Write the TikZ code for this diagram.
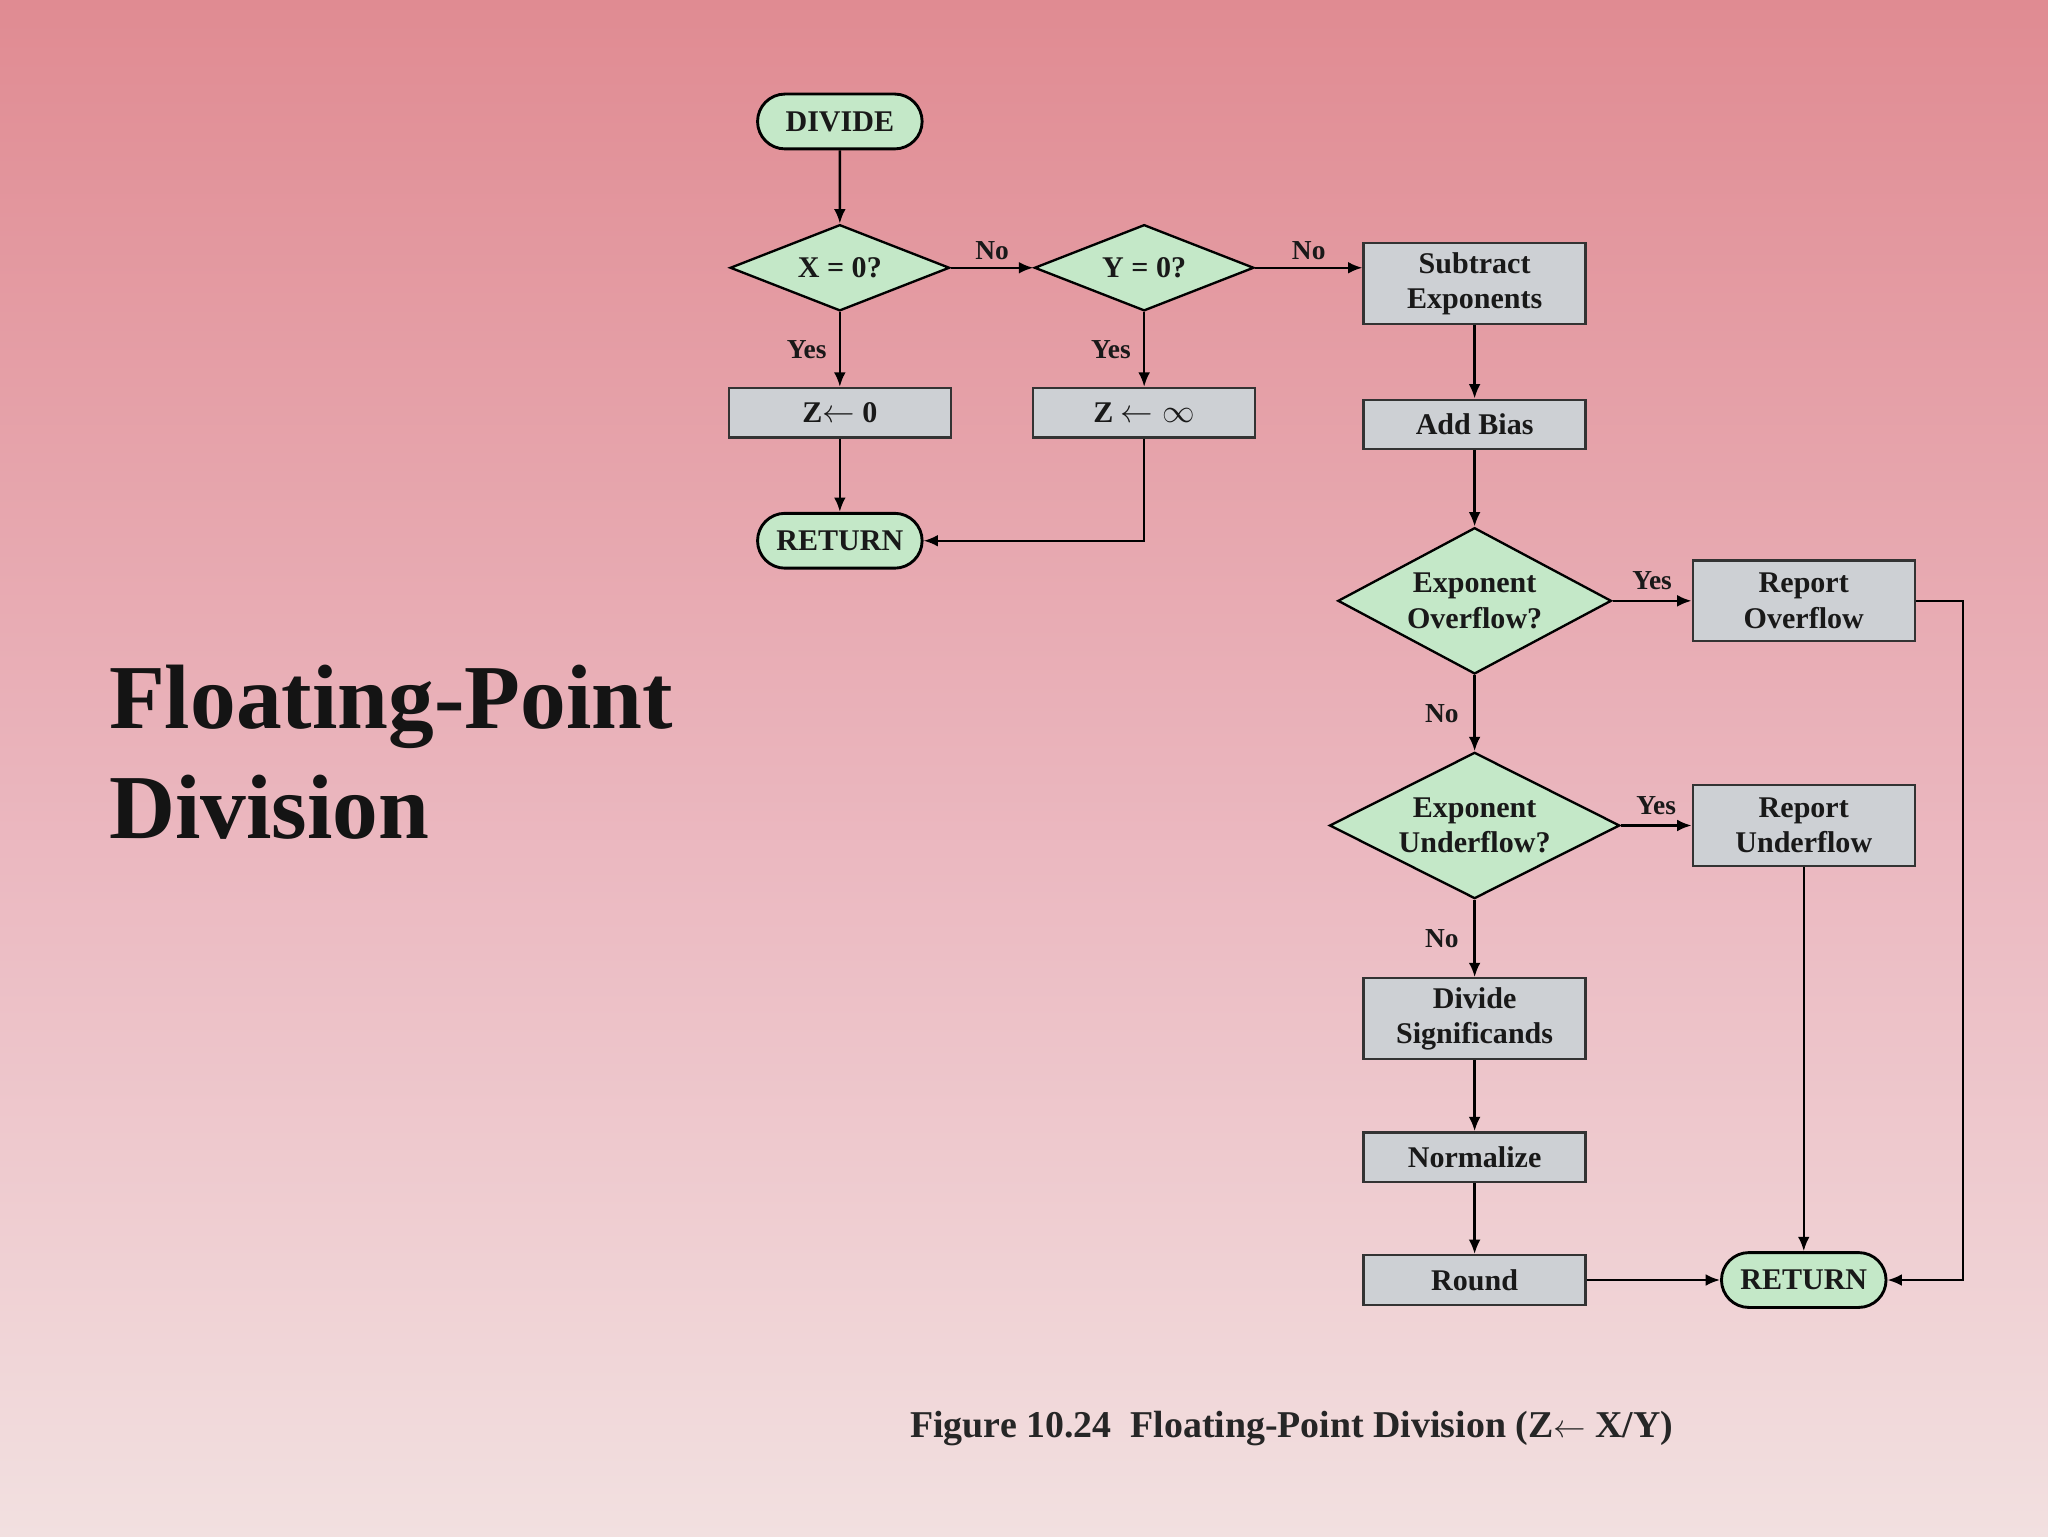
\documentclass[tikz,border=0pt]{standalone}
\usepackage{fontspec}
\setmainfont{Liberation Serif}
\usetikzlibrary{shapes.geometric,shapes.misc,arrows.meta}
\definecolor{gfill}{RGB}{196,232,200}
\definecolor{bfill}{RGB}{205,208,212}
\begin{document}
\begin{tikzpicture}[x=1pt,y=-1pt,
 every node/.style={font=\fontsize{23}{27}\selectfont\bfseries, text=black!90, align=center},
 box/.style={draw=black!80, line width=1.8pt, fill=bfill, minimum width=170pt, inner sep=0pt},
 term/.style={draw=black, line width=2.2pt, fill=gfill, rounded rectangle, minimum width=126pt, minimum height=42pt, inner sep=0pt},
 dec/.style={draw=black, line width=1.8pt, fill=gfill, diamond, aspect=2.5, inner sep=0pt},
 ar/.style={draw=black, line width=1.8pt, -{Latex[length=11pt,width=9pt]}},
 lab/.style={font=\fontsize{21}{24}\selectfont\bfseries}]
\shade[top color={rgb,255:red,224;green,139;blue,146}, bottom color={rgb,255:red,235;green,184;blue,192}] (0,0) rectangle (1568,650);
\shade[top color={rgb,255:red,235;green,184;blue,192}, bottom color={rgb,255:red,242;green,224;blue,224}] (0,650) rectangle (1568,1176);
\useasboundingbox (0,0) rectangle (1568,1176);
\node[term] (div) at (643,93) {DIVIDE};
\node[dec, minimum width=168pt, minimum height=66pt] (x) at (643,205) {X = 0?};
\node[dec, minimum width=168pt, minimum height=66pt] (y) at (876,205) {Y = 0?};
\node[box, minimum height=62pt] (sub) at (1129,217) {Subtract\\Exponents};
\node[box, minimum height=38pt] (z0) at (643,316) {Z$\leftarrow$ 0};
\node[box, minimum height=38pt] (zi) at (876,316) {Z $\leftarrow\infty$};
\node[term] (ret1) at (643,414) {RETURN};
\node[box, minimum height=38pt] (bias) at (1129,325) {Add Bias};
\node[dec, minimum width=188pt, minimum height=112pt] (ov) at (1129,460) {Exponent\\Overflow?};
\node[box, minimum height=62pt] (rov) at (1381,460) {Report\\Overflow};
\node[dec, minimum width=188pt, minimum height=112pt] (un) at (1129,632) {Exponent\\Underflow?};
\node[box, minimum height=62pt] (run) at (1381,632) {Report\\Underflow};
\node[box, minimum height=62pt] (ds) at (1129,780) {Divide\\Significands};
\node[box, minimum height=38pt] (nor) at (1129,886) {Normalize};
\node[box, minimum height=38pt] (rnd) at (1129,980) {Round};
\node[term] (ret2) at (1381,980) {RETURN};
\coordinate (c1) at (1503,460);
\draw[ar] (div) -- (x);
\draw[ar] (x) -- node[lab, above=2pt]{No} (y);
\draw[ar] (y.east) -- node[lab, above=2pt]{No} (y.east -| sub.west);
\draw[ar] (x) -- node[lab, left=6pt]{Yes} (z0);
\draw[ar] (y) -- node[lab, left=6pt]{Yes} (zi);
\draw[ar] (z0) -- (ret1);
\draw[ar] (zi.south) |- (ret1.east);
\draw[ar] (sub) -- (bias);
\draw[ar] (bias) -- (ov);
\draw[ar] (ov) -- node[lab, above=4pt]{Yes} (rov);
\draw[ar] (ov) -- node[lab, left=8pt]{No} (un);
\draw[ar] (un) -- node[lab, above=4pt]{Yes} (run);
\draw[ar] (un) -- node[lab, left=8pt]{No} (ds);
\draw[ar] (ds) -- (nor);
\draw[ar] (nor) -- (rnd);
\draw[ar] (rnd) -- (ret2);
\draw[ar] (run) -- (ret2);
\draw[ar] (rov.east) -- (c1) |- (ret2.east);
\node[anchor=west, align=left, font=\fontsize{70}{84}\selectfont\bfseries, text=black!92] (t) at (80,576) {Floating-Point\\Division};
\node[font=\fontsize{29}{32}\selectfont\bfseries, text=black!85] (cap) at (989,1094) {Figure 10.24\ \ Floating-Point Division (Z$\leftarrow$ X/Y)};
\end{tikzpicture}
\end{document}
